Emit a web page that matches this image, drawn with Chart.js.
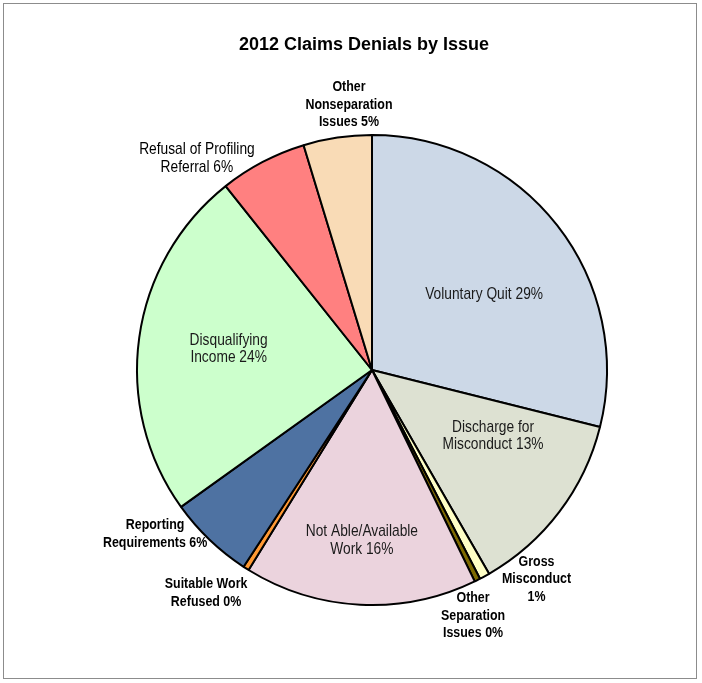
<!DOCTYPE html>
<html lang="en">
<head>
    <meta charset="UTF-8">
    <title>2012 Claims Denials by Issue</title>
    <script src="https://cdn.jsdelivr.net/npm/chart.js"></script>
    <style>
        body {
            margin: 0;
            background: #fff;
        }
        .frame {
            position: absolute;
            left: 3px;
            top: 3px;
            width: 694px;
            height: 676px;
            border: 1px solid #8c8c8c;
            box-sizing: border-box;
        }
        .wrap {
            position: absolute;
            left: 0;
            top: 0;
            width: 702px;
            height: 683px;
        }
    </style>
</head>
<body>
<div class="frame"></div>
<div class="wrap"><canvas id="pie" width="702" height="683"></canvas></div>

<script>
// slices, clockwise from 12 o'clock
const categories = [
    "Voluntary Quit",
    "Discharge for\nMisconduct",
    "Gross\nMisconduct\n",
    "Other\nSeparation\nIssues",
    "Not Able/Available\nWork",
    "Suitable Work\nRefused",
    "Reporting\nRequirements",
    "Disqualifying\nIncome",
    "Refusal of Profiling\nReferral",
    "Other\nNonseparation\nIssues"
];
const shares = [28.9, 12.8, 0.7, 0.4, 16.0, 0.4, 5.9, 24.2, 6.0, 4.7];
const sliceColors = ["#CCD8E7", "#DDE1D2", "#FFFFC6", "#7D6A00", "#EBD3DD",
                     "#FF9933", "#4E72A2", "#CCFFCC", "#FF8080", "#F9DBB6"];

// label placement: x, y as fractions of the pie radius from the centre, plus text style
const labelSpots = [
    [0.477, -0.323, 'in'], [0.515, 0.281, 'in'], [0.70, 0.89, 'bold'], [0.43, 1.045, 'bold'],
    [-0.043, 0.726, 'in'], [-0.706, 0.949, 'bold'], [-0.923, 0.698, 'bold'], [-0.61, -0.09, 'in'],
    [-0.745, -0.90, 'plain'], [-0.098, -1.13, 'bold']
];

const FONT = '"Liberation Sans", Arial, sans-serif';

const labelPlugin = {
    id: 'sliceLabels',
    afterDraw(chart) {
        const ctx = chart.ctx;
        const arc = chart.getDatasetMeta(0).data[0];
        const cx = arc.x, cy = arc.y, r = arc.outerRadius;

        // title
        ctx.save();
        ctx.fillStyle = '#000';
        ctx.font = 'bold 18px ' + FONT;
        ctx.textAlign = 'center';
        ctx.textBaseline = 'middle';
        ctx.fillText('2012 Claims Denials by Issue', 364, 45);
        ctx.restore();

        categories.forEach((name, i) => {
            const pct = Math.round(shares[i]) + '%';
            const lines = name.split('\n');
            if (lines[lines.length - 1] === '') lines[lines.length - 1] = pct;
            else lines[lines.length - 1] += ' ' + pct;
            const [fx, fy, kind] = labelSpots[i];
            const x = cx + fx * r, y = cy + fy * r;
            const lh = 17.5;
            const squeeze = 0.84;
            ctx.save();
            ctx.fillStyle = kind === 'in' ? '#1a1a1a' : '#000';
            ctx.font = (kind === 'bold' ? 'bold 14.8px ' : '16.4px ') + FONT;
            ctx.textAlign = 'center';
            ctx.textBaseline = 'middle';
            ctx.translate(x, y);
            ctx.scale(squeeze, 1);
            lines.forEach((ln, k) => {
                ctx.fillText(ln, 0, (k - (lines.length - 1) / 2) * lh);
            });
            ctx.restore();
        });
    }
};

new Chart(document.getElementById('pie'), {
    type: 'pie',
    data: {
        labels: categories,
        datasets: [{
            data: shares,
            backgroundColor: sliceColors,
            borderColor: '#000',
            borderWidth: 2,
            hoverOffset: 0,
            hoverBorderWidth: 2,
            radius: 235
        }]
    },
    options: {
        responsive: false,
        animation: false,
        events: [],
        layout: { padding: { left: 42, right: 0, top: 57, bottom: 0 } },
        plugins: {
            legend: { display: false },
            tooltip: { enabled: false },
            title: { display: false }
        }
    },
    plugins: [labelPlugin]
});
</script>
</body>
</html>
